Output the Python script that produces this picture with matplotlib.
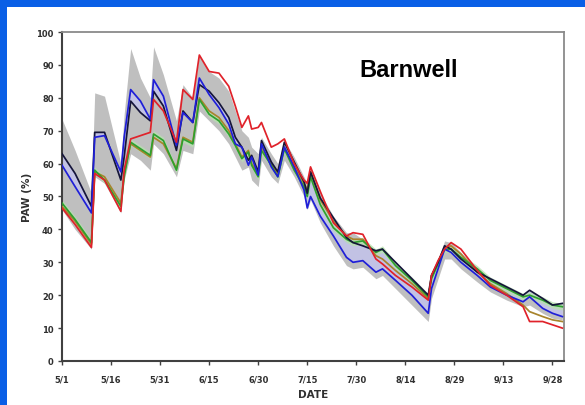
import numpy as np
import matplotlib
matplotlib.use("Agg")
import matplotlib.pyplot as plt
from matplotlib.patches import Rectangle

# days after 5/1 where the readings change direction
day = [0, 4, 9, 10, 13, 18, 19, 21, 24, 27, 28, 31, 35, 37, 40, 42, 45, 48, 51, 53,
       55, 57, 58, 60, 61, 64, 66, 68, 71, 74, 75, 76, 79, 83, 87, 89, 92, 96, 98, 102,
       107, 112, 113, 115, 117, 119, 122, 127, 131, 136, 141, 143, 147, 150, 153]

paw_black = [63, 57, 47, 69.5, 69.5, 55, 62, 79, 75.5, 73, 82, 77.5, 64, 76, 72.5,
             84, 82, 78.5, 74, 68, 65, 61, 62.5, 57.5, 67, 60.5, 57.5, 66.5, 60.5, 54.5,
             51, 57.5, 49.5, 43.5, 37.5, 36, 35, 33.5, 34, 30, 25, 20, 26, 30, 35,
             34, 31, 27, 25, 22.5, 20, 21.5, 19, 17, 17.5]
paw_blue = [59.5, 53, 45, 68, 68.5, 57.5, 68, 82.5, 79, 73.5, 85.5, 80.5, 65.5, 75.5, 72.5,
            86, 81, 77, 72, 66, 65, 59.5, 62, 56.5, 66, 59, 56, 65, 59, 52,
            46.5, 50, 44, 38, 31.5, 30, 30.5, 27, 28, 24.5, 20, 14.5, 22, 28, 34,
            33, 30, 26, 22.5, 20, 18, 19.5, 16, 14.5, 13.5]
paw_red = [46.5, 41.5, 34.5, 57, 55, 45.5, 58, 67.5, 68.5, 69.5, 79.5, 76, 66.5, 82.5, 79.5,
           93, 88, 87.5, 83.5, 77.5, 71, 74.5, 70.5, 71, 72.5, 65, 66, 67.5, 60, 55,
           54, 59, 51.5, 42, 38, 39, 38.5, 31, 29.5, 26, 22.5, 18.5, 26, 30.5, 34,
           36, 34, 27.5, 23, 20, 16.5, 12, 12, 11, 10]
paw_green = [48, 43, 36, 58, 55, 47, 56, 66.5, 64.5, 62.5, 69, 67, 58, 67.5, 66,
             79.5, 75, 73, 69, 65.5, 61.5, 63.5, 59.5, 56, 64, 59.5, 56, 64.5, 58, 53,
             50, 56, 47.5, 40.5, 37, 36, 36.5, 33, 34, 29, 24.5, 19.5, 25, 29.5, 34,
             34, 31.5, 28, 24.5, 22, 19.5, 20, 18.5, 17, 16.5]
paw_olive = [47, 42.5, 35.5, 57.5, 56, 48, 57, 66, 64, 62, 68, 66, 58.5, 68, 66.5,
             80, 76, 74, 70, 66, 62, 64, 60, 57, 65, 60, 57, 65, 59, 54,
             52, 57.5, 49, 42.5, 38, 37, 37, 32, 31, 27.5, 23.5, 19, 26, 30, 34.5,
             35, 32.5, 27, 23.5, 20.5, 17, 15, 13.5, 12.5, 12]
# range of all sensors
paw_hi = [73.5, 64, 51, 81.5, 80.5, 60, 75, 95, 86, 80, 95.5, 87, 73, 84, 80,
          93, 88, 86, 82, 76, 70, 68, 65, 63, 68, 63, 60, 67, 62, 56,
          54, 59, 51, 44, 39, 39, 37, 33, 33, 30, 25, 20, 27, 31, 36.5,
          36, 33, 28, 24.5, 22, 19.5, 20.5, 18.5, 17, 17]
paw_lo = [46, 40, 34, 56, 54, 45, 55, 63, 61, 58, 66, 63, 56, 64, 63,
          76, 73, 70, 66, 62, 58, 59, 55, 53, 61, 56, 54, 61, 56, 50,
          46, 49, 42, 35, 29, 28, 28.5, 25, 26, 22, 17, 12, 19, 25, 31,
          31, 28, 24, 21, 18.5, 16.5, 17, 14.5, 13, 12.5]

tick_days = [0, 15, 30, 45, 60, 75, 90, 105, 120, 135, 150]
tick_names = ["5/1", "5/16", "5/31", "6/15", "6/30", "7/15", "7/30", "8/14", "8/29", "9/13", "9/28"]

fig = plt.figure(figsize=(5.85, 4.06), dpi=100, facecolor="#0a5fe6")
fig.patches.append(Rectangle((7 / 585, 0), 1, 1 - 8 / 406, transform=fig.transFigure,
                             facecolor="white", edgecolor="none", zorder=-10))

ax = fig.add_axes([0.106, 0.1084, 0.858, 0.8103])
ax.set_zorder(5)
ax.set_facecolor("white")

ax.fill_between(day, paw_lo, paw_hi, color="#b4b4b4", alpha=0.85, lw=0, zorder=1)
ax.fill_between(day, paw_blue, paw_black, color="#c4c4ee", alpha=0.8, lw=0, zorder=2)
ax.fill_between(day, np.array(paw_green) - 1, np.array(paw_green) + 1,
                color="#b8e0b0", alpha=0.8, lw=0, zorder=2)

lw = 1.25
ax.plot(day, paw_olive, color="#a8842c", lw=lw, zorder=3)
ax.plot(day, paw_green, color="#2ea02e", lw=lw, zorder=4)
ax.plot(day, paw_black, color="#15153a", lw=lw, zorder=5)
ax.plot(day, paw_blue, color="#1f1fd8", lw=lw, zorder=6)
ax.plot(day, paw_red, color="#e0222a", lw=lw, zorder=7)

ax.set_xlim(0, 153.5)
ax.set_ylim(0, 100)
ax.set_yticks(range(0, 101, 10))
ax.set_xticks(tick_days)
ax.set_xticklabels(tick_names)

for side in ["left", "bottom"]:
    ax.spines[side].set_color("#404040")
    ax.spines[side].set_linewidth(1.5)
for side in ["top", "right"]:
    ax.spines[side].set_color("#8a8a8a")
    ax.spines[side].set_linewidth(1.3)

ax.tick_params(axis="both", direction="out", length=3, width=1, color="#404040",
               labelsize=6)
ax.tick_params(axis="x", pad=7)
ax.tick_params(axis="y", pad=3)
for lab in ax.get_xticklabels() + ax.get_yticklabels():
    lab.set_fontweight("bold")
    lab.set_color("#303030")

ax.set_xlabel("DATE", fontsize=7.5, fontweight="bold", color="#303030", labelpad=4)
ax.set_ylabel("PAW (%)", fontsize=7.5, fontweight="bold", color="#303030", labelpad=3)

ax.text(0.69, 0.885, "Barnwell", transform=ax.transAxes, fontsize=17,
        fontweight="bold", family=["Liberation Sans", "DejaVu Sans"],
        ha="center", va="center", color="black")

fig.savefig("out.png", dpi=100, facecolor=fig.get_facecolor())
